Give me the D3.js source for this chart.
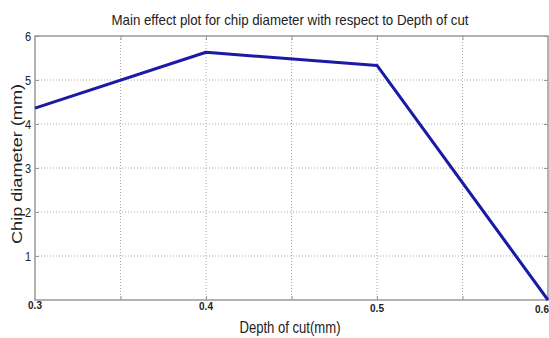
<!DOCTYPE html>
<html><head><meta charset="utf-8">
<script src="https://cdn.jsdelivr.net/npm/d3@7"></script>
<style>body{margin:0;background:#fff}svg{display:block}</style>
</head><body>
<svg id="c" width="549" height="338"></svg>
<script>
const depth = [0.3, 0.4, 0.5, 0.6];
const diameter = [4.36, 5.63, 5.33, 0.0];
const xTicks = [0.3, 0.4, 0.5, 0.6];
const xGrid = [0.35, 0.4, 0.45, 0.5, 0.55];
const yTicks = [1, 2, 3, 4, 5, 6];
const title = "Main effect plot for chip diameter with respect to Depth of cut";
const xTitle = "Depth of cut(mm)";
const yTitle = "Chip diameter (mm)";

const FONT = "'Liberation Sans', Arial, sans-serif";
const svg = d3.select("#c");
const L = 35, R = 548, T = 36, B = 300;
const x = d3.scaleLinear().domain([0.3, 0.6]).range([L, R]);
const y = d3.scaleLinear().domain([0, 6]).range([B, T]);

// grid
svg.append("g").selectAll("line").data(yTicks.filter(d => d < 6)).join("line")
  .attr("x1", L).attr("x2", R).attr("y1", d => y(d)).attr("y2", d => y(d))
  .attr("stroke", "#aaa").attr("stroke-width", 1).attr("stroke-dasharray", "1,2");
svg.append("g").selectAll("line").data(xGrid).join("line")
  .attr("x1", d => x(d)).attr("x2", d => x(d)).attr("y1", T).attr("y2", B)
  .attr("stroke", "#aaa").attr("stroke-width", 1).attr("stroke-dasharray", "1,2");

// frame
svg.append("rect").attr("x", L).attr("y", T).attr("width", R - L).attr("height", B - T)
  .attr("fill", "none").attr("stroke", "#999").attr("stroke-width", 1.5);

// axes ticks
const ax = d3.axisBottom(x).tickValues(xGrid).tickSize(-4).tickFormat("");
svg.append("g").attr("transform", `translate(0,${B})`).call(ax)
  .call(g => g.select(".domain").remove()).selectAll("line").attr("stroke", "#999");
const axT = d3.axisTop(x).tickValues(xGrid).tickSize(-4).tickFormat("");
svg.append("g").attr("transform", `translate(0,${T})`).call(axT)
  .call(g => g.select(".domain").remove()).selectAll("line").attr("stroke", "#999");
const ay = d3.axisLeft(y).tickValues(yTicks).tickSize(-4).tickPadding(2).tickFormat(d3.format("d"));
svg.append("g").attr("transform", `translate(${L},0)`).call(ay)
  .call(g => g.select(".domain").remove())
  .call(g => g.selectAll("line").attr("stroke", "#999"))
  .call(g => g.selectAll("text").attr("font-family", FONT).attr("font-size", 13)
    .attr("fill", "#222").attr("transform", "scale(0.85,1)").attr("x", -3 / 0.85 - 1));
const ayR = d3.axisRight(y).tickValues(yTicks).tickSize(-4).tickFormat("");
svg.append("g").attr("transform", `translate(${R},0)`).call(ayR)
  .call(g => g.select(".domain").remove()).selectAll("line").attr("stroke", "#999");

// x tick labels
svg.append("g").selectAll("text").data(xTicks).join("text")
  .attr("x", d => x(d) - (d === 0.6 ? 6 : 0)).attr("y", (d, i) => 309 + i * 1.3)
  .attr("text-anchor", "middle")
  .attr("font-family", FONT).attr("font-weight", "bold")
  .attr("font-size", 10).attr("fill", "#222").text(d => d3.format(".1f")(d));

// line
svg.append("path").datum(depth.map((d, i) => [d, diameter[i]]))
  .attr("d", d3.line().x(d => x(d[0])).y(d => y(d[1])))
  .attr("fill", "none").attr("stroke", "#1a1aa6").attr("stroke-width", 3)
  .attr("stroke-linejoin", "round");

// titles
svg.append("text").attr("x", 290).attr("y", 25).attr("text-anchor", "middle")
  .attr("font-family", FONT).attr("font-size", 15)
  .attr("textLength", 357).attr("lengthAdjust", "spacingAndGlyphs")
  .attr("fill", "#222").text(title);
svg.append("text").attr("x", 290).attr("y", 333).attr("text-anchor", "middle")
  .attr("font-family", FONT).attr("font-size", 16)
  .attr("textLength", 101).attr("lengthAdjust", "spacingAndGlyphs")
  .attr("fill", "#222").text(xTitle);
svg.append("text").attr("transform", "translate(22,164) rotate(-90)").attr("text-anchor", "middle")
  .attr("font-family", FONT).attr("font-size", 15)
  .attr("textLength", 160).attr("lengthAdjust", "spacingAndGlyphs")
  .attr("fill", "#222").text(yTitle);
</script>
</body></html>
